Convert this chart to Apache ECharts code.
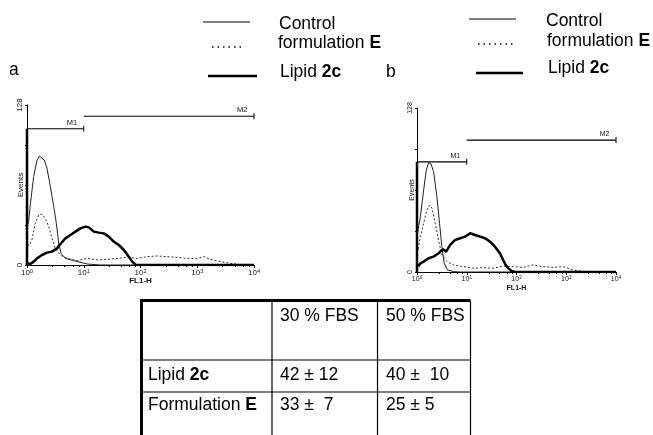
<!DOCTYPE html>
<html>
<head>
<meta charset="utf-8">
<script src="https://cdn.jsdelivr.net/npm/echarts@6/dist/echarts.min.js"></script>
<style>
html,body{margin:0;padding:0;background:#fff;}
#chart{width:653px;height:435px;}
</style>
</head>
<body>
<div id="chart"></div>
<script>
// ---------------- DATA ----------------
// Axis settings
const xMin = 1, xMax = 10000;
const yMin = 0, yMax = 128, yStep = 32;
const yLabelValues = [0, 128];

// Panel a histograms: [FL1-H, events]
const aControl = [[1,30],[1.07,34.7],[1.15,49.3],[1.31,70.7],[1.5,84],[1.67,87.2],[1.84,85.3],[2.02,84],[2.25,77.3],[2.58,62.7],[2.96,46.7],[3.29,33.3],[3.62,17.3],[3.98,9.3],[4.75,5.3],[6.66,3.5],[11.5,0.8],[19.7,0],[10000,0]];
const aFormE = [[1,16],[1.03,16],[1.11,16],[1.22,20],[1.4,33.3],[1.61,40],[1.84,40.8],[2.11,37.3],[2.41,30.7],[2.76,21.3],[3.16,13.3],[3.87,8],[5.08,5.3],[7.63,3.5],[11.5,5.3],[17.2,4],[25.8,4.5],[38.7,5.3],[58.2,6.1],[87.3,5.3],[131,6.7],[197,7.2],[296,6.7],[444,6.1],[666,5.3],[1000,5.1],[1312,6.7],[1718,4.5],[2580,2.7],[3873,1.3],[5818,0.3],[10000,0]];
const aLipid = [[1.03,1.3],[1.15,0.8],[1.31,2.7],[1.5,5.3],[1.84,8],[2.25,9.9],[2.76,10.7],[3.38,13.3],[3.87,16.8],[4.75,21.3],[5.82,24],[7.13,26.7],[8.73,29.3],[10.7,30.7],[12.3,30.1],[15,26.7],[18.4,25.9],[22.5,25.3],[27.6,22.7],[33.8,18.7],[41.5,16],[50.8,12],[62.2,6.7],[71.3,2.7],[81.6,0.3],[100,0],[10000,0]];
// Panel a markers: [from, to, events level]
const aM1 = [1, 10, 109];
const aM2 = [10, 10000, 119];

// Panel b histograms
const bControl = [[1,28],[1.05,32.8],[1.17,43.2],[1.36,64],[1.54,79.7],[1.71,85.4],[1.91,84.4],[2.15,78.4],[2.51,58.9],[2.84,38],[3.16,19.8],[3.52,6.8],[4.1,1.6],[5.41,0.3],[7.36,0],[10000,0]];
const bFormE = [[1,15],[1.05,17.2],[1.17,27.6],[1.36,38],[1.58,48.4],[1.79,52.3],[2,49.7],[2.33,38],[2.71,25],[3.16,13.3],[3.98,8.1],[5.41,5.5],[8.58,4.2],[13.6,2.9],[21.5,3.4],[34.1,2.9],[54.1,4.7],[85.8,4.2],[136,3.6],[215,5.5],[341,4.2],[541,3.6],[858,4.2],[1359,1.6],[1995,0.8],[2929,0],[10000,0]];
const bLipid = [[1.05,4.2],[1.17,6.8],[1.36,8.1],[1.71,10.7],[2.15,12],[2.71,14.6],[3.31,17.7],[3.86,15.9],[4.64,21.1],[5.84,25],[7.36,26.3],[9.26,27.6],[11.7,30.2],[14.7,28.9],[18.5,27.6],[23.3,26.3],[29.3,23.7],[36.9,19.8],[46.4,14.6],[55.8,8.1],[65.1,3.6],[79.4,0.8],[92.6,0],[10000,0]];
const bM1 = [1, 10, 86];
const bM2 = [10, 10000, 103];

// Legend texts
const legendLabels = ['Control', 'formulation {b|E}', 'Lipid {b|2c}'];
const panelLetters = ['a', 'b'];

// Table
const tableHeader = ['', '30 % FBS', '50 % FBS'];
const tableRowLabels = ['Lipid {b|2c}', 'Formulation {b|E}'];
const fbs30 = ['42 \u00b1 12', '33 \u00b1  7'];
const fbs50 = ['40 \u00b1  10', '25 \u00b1 5'];

// ---------------- CHART ----------------
const FONT = 'Liberation Sans, Arial, Helvetica, sans-serif';
const chart = echarts.init(document.getElementById('chart'), null, {renderer: 'canvas'});

function xAxisCfg(gi, fs, gap) {
  return {
    type: 'log', logBase: 10, gridIndex: gi, min: xMin, max: xMax,
    name: 'FL1-H', nameLocation: 'middle', nameGap: gap, nameMoveOverlap: false,
    nameTextStyle: {fontFamily: FONT, fontSize: fs, color: '#111', fontWeight: 'bold'},
    axisLine: {show: true, lineStyle: {color: '#000', width: 1}},
    axisTick: {show: true, length: 3, lineStyle: {color: '#000'}},
    minorTick: {show: true, splitNumber: 5, length: 2, lineStyle: {color: '#000'}},
    splitLine: {show: false},
    axisLabel: {
      margin: 3,
      formatter: v => '{b|10}{s|' + Math.round(Math.log10(v)) + '}',
      rich: {
        b: {fontFamily: FONT, fontSize: fs, color: '#111', lineHeight: fs + 2},
        s: {fontFamily: FONT, fontSize: fs - 2.5, color: '#111', verticalAlign: 'top', lineHeight: fs + 2}
      }
    }
  };
}
function yAxisCfg(gi, fs, gap) {
  return {
    type: 'value', gridIndex: gi, min: yMin, max: yMax, interval: yStep,
    name: 'Events', nameLocation: 'middle', nameGap: gap, nameRotate: 90, nameMoveOverlap: false,
    nameTextStyle: {fontFamily: FONT, fontSize: fs, color: '#111'},
    axisLine: {show: true, lineStyle: {color: '#000', width: 1}},
    axisTick: {show: true, length: 2, lineStyle: {color: '#000'}},
    splitLine: {show: false},
    axisLabel: {
      rotate: 90, margin: 3, fontFamily: FONT, fontSize: fs, color: '#111',
      formatter: v => (yLabelValues.indexOf(v) >= 0 ? String(v) : '')
    }
  };
}

function histSeries(gi, data, kind) {
  const styles = {
    control: {color: '#222', width: 1, type: 'solid'},
    formE: {color: '#333', width: 1, type: [2, 2]},
    lipid: {color: '#000', width: 2.5, type: 'solid'}
  };
  const s = styles[kind];
  return {
    type: 'line', xAxisIndex: gi, yAxisIndex: gi, data: data,
    showSymbol: false, symbol: 'none', silent: true, animation: false,
    lineStyle: {color: s.color, width: s.width, type: s.type},
    z: kind === 'lipid' ? 4 : 3
  };
}

function markerSeries(gi, m, label, fs) {
  return {
    type: 'line', xAxisIndex: gi, yAxisIndex: gi, animation: false, silent: true,
    data: [
      {value: [m[0], m[2]], symbol: 'none'},
      {value: [m[1], m[2]], label: {show: true, formatter: label, position: 'left', offset: [-1, -6],
        fontFamily: FONT, fontSize: fs, color: '#111'}}
    ],
    symbol: 'rect', symbolSize: [1, 6], showSymbol: true,
    itemStyle: {color: '#000'},
    lineStyle: {color: '#000', width: 1.2},
    z: 5
  };
}
function gateEdgeSeries(gi, m) {
  return {
    type: 'line', xAxisIndex: gi, yAxisIndex: gi, animation: false, silent: true,
    data: [[m[0], 0], [m[0], m[2]]], symbol: 'none',
    lineStyle: {color: '#000', width: 2.5}, z: 6
  };
}

// ---- graphic: legends, letters, table ----
const graphics = [];
const LFS = 17.5;
const richBold = {b: {fontFamily: FONT, fontSize: LFS, fontWeight: 'bold', fill: '#000'}};
function gtext(x, y, text, fs) {
  graphics.push({type: 'text', x: x, y: y, silent: true,
    style: {text: text, fill: '#000', fontFamily: FONT, fontSize: fs || LFS, verticalAlign: 'middle', align: 'left', rich: richBold}});
}
function gline(x1, y1, x2, y2, w, dash) {
  graphics.push({type: 'line', silent: true, shape: {x1: x1, y1: y1, x2: x2, y2: y2},
    style: {stroke: '#000', lineWidth: w, lineDash: dash || null}});
}
// legend layouts: [lineX1, lineX2, lineY, textX, textY] per entry
const legendLayouts = [
  [[203, 250, 22, 279, 24], [212, 244, 47, 278, 43], [208, 257, 76, 280, 72]],
  [[469, 516, 19, 546, 21], [478, 513, 44, 547, 41], [476, 523, 73, 548, 68]]
];
legendLayouts.forEach(lay => {
  lay.forEach((p, i) => {
    if (i === 0) gline(p[0], p[2], p[1], p[2], 1);
    else if (i === 1) gline(p[0], p[2], p[1], p[2], 1.6, [1.5, 4]);
    else gline(p[0], p[2], p[1], p[2], 2.5);
    gtext(p[3], p[4], legendLabels[i]);
  });
});
gtext(9, 70, panelLetters[0]);
gtext(386, 72, panelLetters[1]);

// table
const colX = [141.5, 272, 377.5, 470.5];
const rowY = [301.5, 360, 392, 440];
gline(colX[0], rowY[0] - 1, colX[3], rowY[0] - 1, 3);
gline(colX[0], rowY[0] - 2.5, colX[0], rowY[3], 3);
for (let c = 1; c < colX.length; c++) gline(colX[c], rowY[0], colX[c], rowY[3], 1.2);
for (let r = 1; r < rowY.length - 1; r++) gline(colX[0], rowY[r], colX[3], rowY[r], 1.2);
const cellPad = [6.5, 8, 8.5];
const textY = [316, 375, 405];
tableHeader.forEach((t, c) => { if (t) gtext(colX[c] + cellPad[c], textY[0], t); });
tableRowLabels.forEach((t, r) => {
  gtext(colX[0] + cellPad[0], textY[r + 1], t);
  gtext(colX[1] + cellPad[1], textY[r + 1], fbs30[r]);
  gtext(colX[2] + cellPad[2], textY[r + 1], fbs50[r]);
});

const option = {
  animation: false,
  backgroundColor: '#fff',
  grid: [
    {left: 27, top: 105, width: 227, height: 160, containLabel: false},
    {left: 417, top: 108, width: 199, height: 164, containLabel: false}
  ],
  xAxis: [xAxisCfg(0, 8, 12), xAxisCfg(1, 7, 13)],
  yAxis: [yAxisCfg(0, 8, 2), yAxisCfg(1, 7, 1)],
  series: [
    histSeries(0, aControl, 'control'),
    histSeries(0, aFormE, 'formE'),
    histSeries(0, aLipid, 'lipid'),
    markerSeries(0, aM1, 'M1', 7.5),
    markerSeries(0, aM2, 'M2', 7.5),
    gateEdgeSeries(0, aM1),
    histSeries(1, bControl, 'control'),
    histSeries(1, bFormE, 'formE'),
    histSeries(1, bLipid, 'lipid'),
    markerSeries(1, bM1, 'M1', 7),
    markerSeries(1, bM2, 'M2', 7),
    gateEdgeSeries(1, bM1)
  ],
  graphic: graphics
};
chart.setOption(option);
</script>
</body>
</html>
